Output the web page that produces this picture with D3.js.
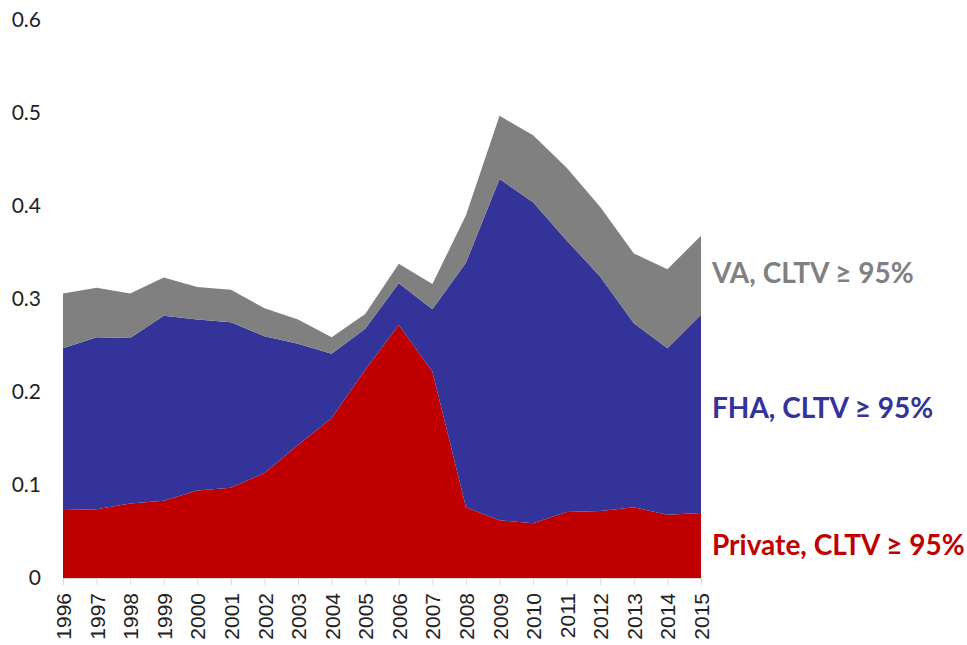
<!DOCTYPE html>
<html lang="en">
<head>
<meta charset="UTF-8">
<script src="https://d3js.org/d3.v7.min.js"></script>
<title>CLTV share</title>
<style>
  body { margin: 0; background: #fff; }
</style>
</head>
<body>
<div id="my_dataviz"></div>
<script>

// data
var years = [1996, 1997, 1998, 1999, 2000, 2001, 2002, 2003, 2004, 2005,
             2006, 2007, 2008, 2009, 2010, 2011, 2012, 2013, 2014, 2015];
var privateVals = [0.073, 0.074, 0.080, 0.083, 0.094, 0.097, 0.113, 0.143, 0.172, 0.224,
                   0.272, 0.222, 0.076, 0.062, 0.059, 0.071, 0.072, 0.076, 0.068, 0.070];
var fhaVals = [0.174, 0.185, 0.178, 0.199, 0.184, 0.178, 0.147, 0.109, 0.069, 0.044,
               0.045, 0.067, 0.263, 0.367, 0.345, 0.292, 0.252, 0.198, 0.179, 0.213];
var vaVals = [0.059, 0.053, 0.048, 0.041, 0.035, 0.035, 0.030, 0.026, 0.018, 0.016,
              0.021, 0.027, 0.051, 0.068, 0.072, 0.078, 0.075, 0.075, 0.085, 0.085];
var yTicks = [0, 0.1, 0.2, 0.3, 0.4, 0.5, 0.6];
var keys = ["private", "fha", "va"];
var labels = {private: "Private, CLTV \u2265 95%", fha: "FHA, CLTV \u2265 95%", va: "VA, CLTV \u2265 95%"};
var colors = {private: "#c00000", fha: "#333399", va: "#808080"};

var width = 967, height = 645;
var svg = d3.select("#my_dataviz")
  .append("svg")
    .attr("width", width)
    .attr("height", height);

var rows = years.map(function(y, i) {
  return {year: y, private: privateVals[i], fha: fhaVals[i], va: vaVals[i]};
});

var x = d3.scaleLinear()
  .domain([1996, 2015])
  .range([63, 701]);

var y = d3.scaleLinear()
  .domain([0, 0.6])
  .range([578, 20]);

var stacked = d3.stack().keys(keys)(rows);

var area = d3.area()
  .x(function(d) { return x(d.data.year); })
  .y0(function(d) { return y(d[0]); })
  .y1(function(d) { return y(d[1]); });

svg.append("g")
  .selectAll("path")
  .data(stacked)
  .enter()
  .append("path")
    .attr("d", area)
    .attr("fill", function(d) { return colors[d.key]; });

// x axis, years rotated
var xAxis = svg.append("g")
  .attr("transform", "translate(0," + y(0) + ")")
  .call(d3.axisBottom(x).tickValues(years).tickFormat(d3.format("d")).tickSize(7).tickSizeOuter(0));
xAxis.select(".domain").attr("stroke", "#d9d9d9");
xAxis.selectAll(".tick line").attr("stroke", "#d9d9d9");
xAxis.selectAll(".tick text")
  .attr("transform", "rotate(-90)")
  .attr("x", -15)
  .attr("y", 0)
  .attr("dy", "0.36em")
  .attr("text-anchor", "end")
  .style("font-family", "'Liberation Sans', Arial, sans-serif")
  .style("font-size", "21px")
  .attr("fill", "#222");

// y axis, labels only
var yAxis = svg.append("g")
  .attr("transform", "translate(41,0)")
  .call(d3.axisLeft(y).tickValues(yTicks).tickFormat(function(d) { return d === 0 ? "0" : d3.format(".1f")(d); }).tickSize(0));
yAxis.select(".domain").remove();
yAxis.selectAll(".tick text")
  .attr("x", 0)
  .style("font-family", "Lato, sans-serif")
  .style("font-size", "21px")
  .attr("fill", "#222");

// series labels at the right
var labelY = {va: 273, fha: 408, private: 545};
svg.append("g")
  .selectAll("text")
  .data(keys)
  .enter()
  .append("text")
    .attr("x", 712)
    .attr("y", function(d) { return labelY[d]; })
    .attr("dy", "0.35em")
    .attr("fill", function(d) { return colors[d]; })
    .style("font-family", "Lato, sans-serif")
    .style("font-weight", "bold")
    .style("font-size", "28px")
    .text(function(d) { return labels[d]; });

</script>
</body>
</html>
